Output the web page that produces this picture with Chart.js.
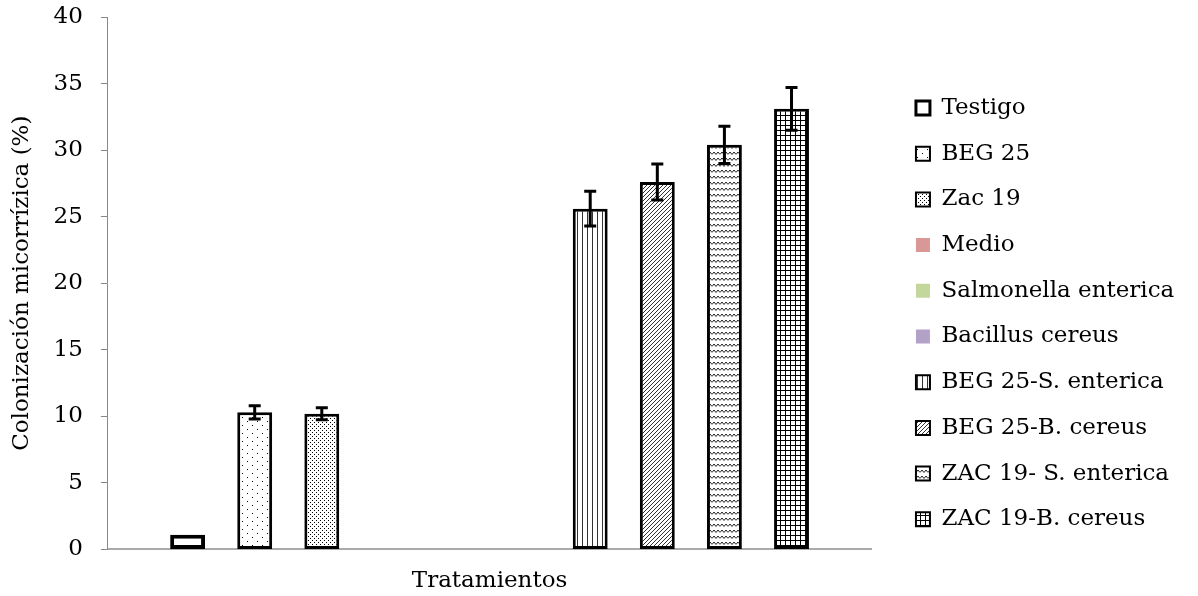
<!DOCTYPE html>
<html lang="es">
<head>
<meta charset="UTF-8">
<title>Colonización micorrízica</title>
<style>
  html, body { margin: 0; padding: 0; background: #fff; }
  #wrap { width: 1198px; height: 596px; position: relative; }
</style>
</head>
<body>
<div id="wrap"><canvas id="chart"></canvas></div>

<script src="https://cdn.jsdelivr.net/npm/chart.js"></script>
<script>
  // datos
  const categories = [''];
  const treatments = ['Testigo', 'BEG 25', 'Zac 19', 'Medio', 'Salmonella enterica', 'Bacillus cereus',
    'BEG 25-S. enterica', 'BEG 25-B. cereus', 'ZAC 19- S. enterica', 'ZAC 19-B. cereus'];
  const values = [1.1, 10.3, 10.2, 0, 0, 0, 25.6, 27.6, 30.4, 33.1];
  const errors = [0, 0.5, 0.45, 0, 0, 0, 1.3, 1.35, 1.4, 1.6];
  const yTicks = [0, 5, 10, 15, 20, 25, 30, 35, 40];

  const FONT = 'DejaVu Serif';
  const FS = 23;

  // tramas para las barras
  function makePattern(w, h, draw) {
    const c = document.createElement('canvas');
    c.width = w; c.height = h;
    const g = c.getContext('2d');
    g.fillStyle = '#fff';
    g.fillRect(0, 0, w, h);
    g.fillStyle = '#000';
    g.strokeStyle = '#000';
    draw(g, w, h);
    return g.createPattern(c, 'repeat');
  }

  const sparseDots = makePattern(10, 8, g => {
    g.fillRect(2, 1, 1, 1);
    g.fillRect(7, 5, 1, 1);
  });
  const denseDots = makePattern(4, 4, g => {
    g.fillRect(0, 0, 1, 1);
    g.fillRect(2, 2, 1, 1);
  });
  const vLines = makePattern(5, 4, g => {
    g.fillStyle = '#333';
    g.fillRect(2, 0, 1, 4);
  });
  const diag = makePattern(4, 4, g => {
    g.fillStyle = '#333';
    for (let i = 0; i < 4; i++) g.fillRect(i, 3 - i, 1, 1);
  });
  const wave = makePattern(8, 6, g => {
    g.lineWidth = 1;
    g.strokeStyle = '#222';
    g.beginPath();
    g.moveTo(0, 4.5); g.lineTo(2, 2); g.lineTo(4, 4.5); g.lineTo(6, 2); g.lineTo(8, 4.5);
    g.stroke();
  });
  const grid = makePattern(5, 5, g => {
    g.fillRect(0, 0, 5, 1);
    g.fillRect(0, 0, 1, 5);
  });

  const fills = ['#fff', sparseDots, denseDots, '#d99795', '#c3d69b', '#b3a2c7', vLines, diag, wave, grid];
  const borders = [4, 3, 3, 0, 0, 0, 3, 3, 3, 3];

  const datasets = treatments.map((name, i) => ({
    label: name,
    data: [values[i]],
    backgroundColor: fills[i],
    borderColor: '#000',
    borderWidth: borders[i],
    borderSkipped: false,
    categoryPercentage: 0.879,
    barPercentage: 0.52
  }));

  // barras de error
  const errorBars = {
    id: 'errorBars',
    afterDatasetsDraw(chart) {
      const ctx = chart.ctx;
      const y = chart.scales.y;
      ctx.save();
      ctx.strokeStyle = '#000';
      ctx.lineWidth = 3;
      chart.data.datasets.forEach((ds, i) => {
        const err = errors[i];
        if (!err) return;
        const bar = chart.getDatasetMeta(i).data[0];
        const yTop = y.getPixelForValue(values[i] + err);
        const yBot = y.getPixelForValue(values[i] - err);
        const half = 6;
        ctx.beginPath();
        ctx.moveTo(bar.x, yTop); ctx.lineTo(bar.x, yBot);
        ctx.moveTo(bar.x - half, yTop); ctx.lineTo(bar.x + half, yTop);
        ctx.moveTo(bar.x - half, yBot); ctx.lineTo(bar.x + half, yBot);
        ctx.stroke();
      });
      ctx.restore();
    }
  };

  // deja un hueco entre el area del grafico y la leyenda
  const legendGap = {
    id: 'legendGap',
    afterLayout(chart) {
      if (!chart.legend) return;
      chart.legend.left += 22;
      chart.legend.right += 22;
    }
  };

  new Chart(document.getElementById('chart'), {
    type: 'bar',
    data: { labels: categories, datasets: datasets },
    options: {
      responsive: true,
      maintainAspectRatio: false,
      animation: false,
      layout: { padding: { left: 8, top: 0, right: 39, bottom: 1 } },
      scales: {
        x: {
          grid: { display: false },
          border: { color: '#aaa', width: 2 },
          ticks: { display: false },
          title: {
            display: true,
            text: 'Tratamientos',
            color: '#000',
            font: { family: FONT, size: FS },
            padding: { top: 10, bottom: 0 }
          }
        },
        y: {
          min: 0,
          max: 40,
          afterBuildTicks: axis => { axis.ticks = yTicks.map(v => ({ value: v })); },
          afterFit: axis => { axis.paddingTop = 17; },
          grid: { drawOnChartArea: false, drawTicks: true, tickLength: 7, color: '#888' },
          border: { color: '#888', width: 1 },
          ticks: {
            color: '#000',
            padding: 18,
            font: { family: FONT, size: FS }
          },
          title: {
            display: true,
            text: 'Colonización micorrízica (%)',
            color: '#000',
            font: { family: FONT, size: FS },
            padding: { top: 0, bottom: 0 }
          }
        }
      },
      plugins: {
        legend: {
          position: 'right',
          align: 'start',
          title: { display: true, text: ' ', font: { size: 1 }, padding: { top: 72.6, bottom: 0 } },
          labels: {
            color: '#000',
            font: { family: FONT, size: FS },
            boxWidth: 14,
            boxHeight: 14,
            padding: 22.7,
            generateLabels(chart) {
              return chart.data.datasets.map((ds, i) => ({
                text: ds.label,
                fillStyle: ds.backgroundColor,
                strokeStyle: '#000',
                fontColor: '#000',
                lineWidth: i === 0 ? 3 : (borders[i] ? 2 : 0),
                hidden: false,
                datasetIndex: i
              }));
            }
          }
        },
        tooltip: { enabled: false }
      }
    },
    plugins: [errorBars, legendGap]
  });
</script>
</body>
</html>
